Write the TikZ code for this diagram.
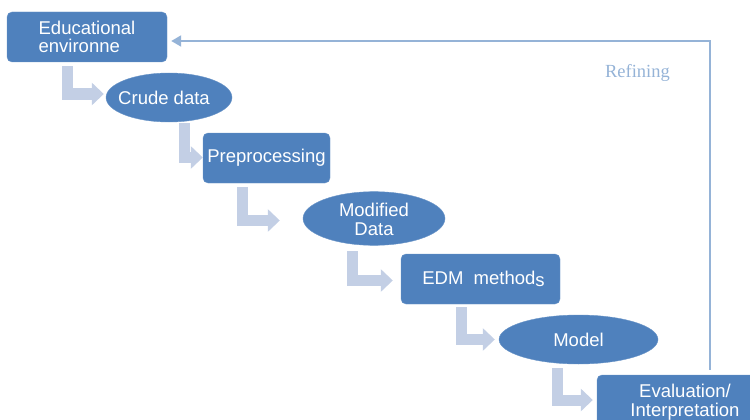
\documentclass[tikz,border=0pt]{standalone}
\usepackage{fontspec}
\setmainfont{Liberation Sans}
\newfontfamily\serifrm{Liberation Serif}
\usetikzlibrary{shapes.geometric,arrows.meta}
\definecolor{boxblue}{HTML}{4F81BD}
\definecolor{flowgrey}{HTML}{C3CFE5}
\definecolor{loopblue}{HTML}{95B3D7}
\tikzset{
  stagebox/.style={draw=boxblue!85!white, fill=boxblue, rounded corners=5pt, text=white,
    font=\fontsize{18.5}{18.5}\selectfont, align=center, inner sep=0pt},
  stageoval/.style={ellipse, draw=boxblue!85!white, fill=boxblue, text=white,
    font=\fontsize{18.5}{18.5}\selectfont, align=center, inner sep=0pt},
  bentflow/.style={draw=flowgrey, line width=11pt, line join=miter,
    -{Triangle[length=12pt,width=22pt]}},
  loopline/.style={draw=loopblue, line width=2pt,
    -{Triangle[length=10pt,width=11pt]}}
}
\begin{document}
\begin{tikzpicture}[x=1pt,y=-1pt]
\useasboundingbox (0,0) rectangle (750,420);
\begin{scope}
\clip (0,0) rectangle (750,420);
% process stages
\node[stagebox, minimum width=160pt, minimum height=50pt, align=left] (edu) at (87,37) {Educational\\environne};
\node[stageoval, minimum width=126pt, minimum height=49pt] (crude) at (169,97.5) {\hspace{-10pt}Crude data};
\node[stageoval, minimum width=142pt, minimum height=48pt] (mod) at (374,218.5) {\raisebox{-4pt}[\height][\depth]{\begin{tabular}{@{}c@{}}Modified\\[0.5pt]Data\end{tabular}}};
\node[stagebox, minimum width=127pt, minimum height=50pt] (prep) at (266.5,158) {Preprocessing};
\node[stagebox, minimum width=159pt, minimum height=50pt] (edm) at (480.5,279) {\hspace{6pt}EDM\ \ method\raisebox{-2pt}{s}};
\node[stageoval, minimum width=159pt, minimum height=49pt] (model) at (578.5,339.5) {Model};
\node[stagebox, minimum width=176pt, minimum height=54pt] (eval) at (685,402) {Evaluation/\\Interpretation};

% bent arrows between consecutive stages
\draw[bentflow, shorten >=2pt] ([xshift=-20pt,yshift=-4pt]edu.south) |- ([yshift=3.5pt]crude.west);
\draw[bentflow] ([xshift=15.5pt,yshift=-1pt]crude.south) |- ([yshift=0.5pt]prep.west);
\draw[bentflow, shorten >=23pt] ([xshift=-24.5pt,yshift=-4pt]prep.south) |- ([yshift=-2pt]mod.west);
\draw[bentflow, shorten >=8pt] ([xshift=-21.5pt,yshift=-5.5pt]mod.south) |- ([yshift=-1.5pt]edm.west);
\draw[bentflow, shorten >=4pt] ([xshift=-19pt,yshift=-3pt]edm.south) |- (model.west);
\draw[bentflow, shorten >=4pt] ([xshift=-21pt,yshift=-4pt]model.south) |- ([yshift=2pt]eval.west);

% feedback loop
\coordinate (loopcorner) at (710,41);
\draw[loopline, shorten >=4pt] ([yshift=5pt]eval.north -| loopcorner) -- (loopcorner) -- (loopcorner -| edu.east);
\node[text=loopblue, font=\serifrm\fontsize{18.5}{19}\selectfont] (refine) at (637.5,73) {Refining};
\end{scope}
\end{tikzpicture}
\end{document}
